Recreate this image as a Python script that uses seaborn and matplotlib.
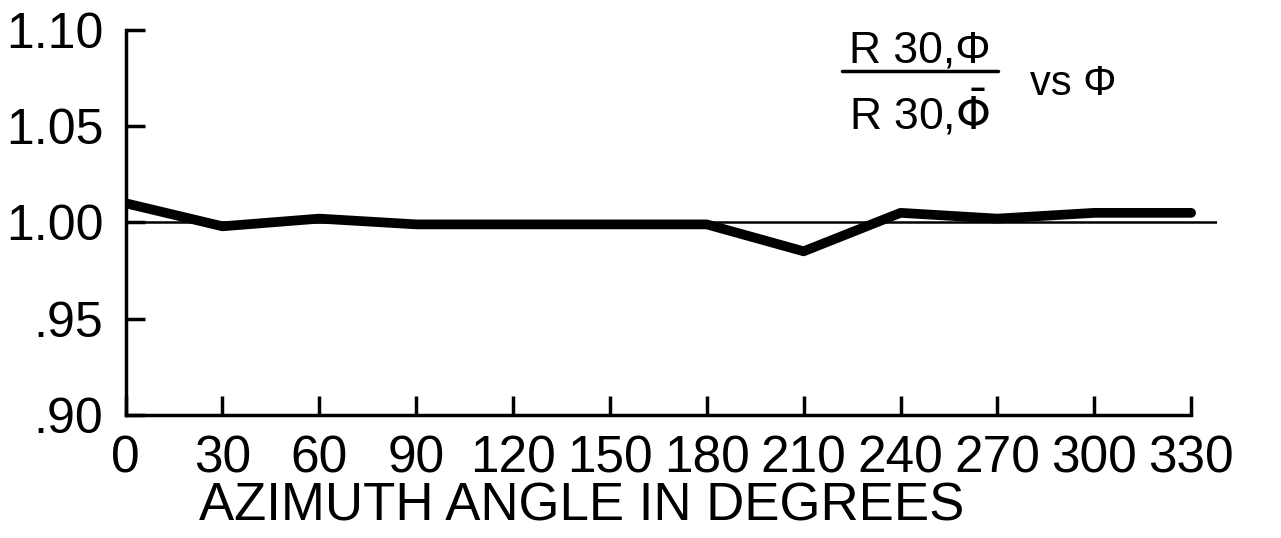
import pandas as pd
import seaborn as sns
import matplotlib.pyplot as plt

# --- Data ---
angles = [0, 30, 60, 90, 120, 150, 180, 210, 240, 270, 300, 330]
ratio = [1.010, 0.998, 1.002, 0.999, 0.999, 0.999, 0.999, 0.985, 1.005, 1.002, 1.005, 1.005]
x_ticks = [0, 30, 60, 90, 120, 150, 180, 210, 240, 270, 300, 330]
y_ticks = [0.90, 0.95, 1.00, 1.05, 1.10]
y_labels = ['.90', '.95', '1.00', '1.05', '1.10']

df = pd.DataFrame({'angle': angles, 'ratio': ratio})

sns.set_style('ticks')
plt.rcParams['font.family'] = ['Liberation Sans', 'DejaVu Sans']
plt.rcParams['text.color'] = 'black'

fig = plt.figure(figsize=(12.81, 5.38), dpi=100)
ax = fig.add_axes([0.098, 0.229, 0.852, 0.715])

# reference line at 1.00
ax.axhline(1.0, xmin=0, xmax=1, color='black', lw=1.8)
sns.lineplot(data=df, x='angle', y='ratio', color='black', lw=7, ax=ax)

ax.set_xlim(0, 338)
ax.set_ylim(0.90, 1.10)
ax.set_xticks(x_ticks)
ax.set_xticklabels([str(v) for v in x_ticks], fontsize=37)
ax.set_yticks(y_ticks)
ax.set_yticklabels(y_labels, fontsize=36)
ax.tick_params(axis='both', direction='in', length=14, width=2.5, colors='black')
ax.tick_params(axis='x', pad=14)
ax.tick_params(axis='y', pad=16)

sns.despine(ax=ax)
ax.spines['left'].set_linewidth(2.5)
ax.spines['bottom'].set_linewidth(2.5)
ax.spines['left'].set_color('black')
ax.spines['bottom'].set_color('black')
ax.spines['bottom'].set_bounds(0, 330)
ax.set_xlabel('')
ax.set_ylabel('')

fig.text(0.155, 0.012, 'AZIMUTH ANGLE IN DEGREES', fontsize=38, ha='left', va='bottom')

# ratio label in upper right
fig.text(0.718, 0.905, 'R 30,\u03A6', fontsize=32, ha='center', va='center')
fig.add_artist(plt.Line2D([0.657, 0.779], [0.868, 0.868], color='black', lw=2.5))
fig.text(0.718, 0.79, r'R 30,$\bar{\Phi}$', fontsize=32, ha='center', va='center')
fig.text(0.838, 0.843, 'vs \u03A6', fontsize=30, ha='center', va='center')

fig.savefig('out.png', dpi=100)
